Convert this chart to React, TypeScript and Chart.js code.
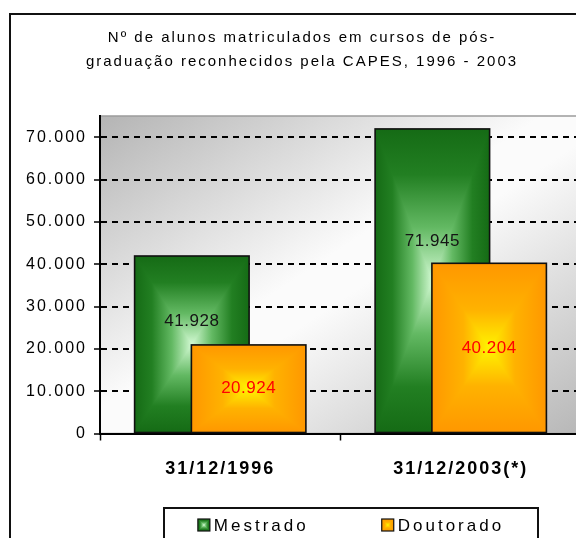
import React, { useEffect, useRef } from 'react';
import { Chart, registerables } from 'chart.js';

Chart.register(...registerables);

// ---- data ----
const categories = ['31/12/1996', '31/12/2003(*)'];
const seriesNames = ['Mestrado', 'Doutorado'];
const mestrado = [41928, 71945];
const doutorado = [20924, 40204];
const yTickValues = [0, 10000, 20000, 30000, 40000, 50000, 60000, 70000];
const yMax = 75000;
const titleLines = [
  'Nº de alunos matriculados em cursos de pós-',
  'graduação reconhecidos pela CAPES, 1996 - 2003',
];

// ---- styles ----
const FONT = '"Liberation Sans", Arial, sans-serif';
const W = 600;
const H = 560;
type Stop = [number, string];
const GREEN_STOPS: Stop[] = [
  [0, '#156b15'],
  [0.3, '#227f22'],
  [0.65, '#63b963'],
  [1, '#d2f9d2'],
];
const ORANGE_STOPS: Stop[] = [
  [0, '#ff9700'],
  [0.55, '#ffb200'],
  [1, '#fff400'],
];
const STOPS = [GREEN_STOPS, ORANGE_STOPS];
const LABEL_COLORS = ['#151515', '#ff0000'];
const LABEL_FRAC = [0.63, 0.5];

function fmt(v: number): string {
  return String(Math.round(v)).replace(/\B(?=(\d{3})+(?!\d))/g, '.');
}

function grad(ctx: CanvasRenderingContext2D, gx0: number, gy0: number, gx1: number, gy1: number, stops: Stop[]) {
  const g = ctx.createLinearGradient(gx0, gy0, gx1, gy1);
  stops.forEach(([o, c]) => g.addColorStop(o, c));
  return g;
}

// rectangular "from centre" gradient
function fillRectGradient(
  ctx: CanvasRenderingContext2D,
  x0: number,
  y0: number,
  x1: number,
  y1: number,
  stops: Stop[]
) {
  const cx = (x0 + x1) / 2;
  const cy = (y0 + y1) / 2;
  ctx.fillStyle = grad(ctx, x0, cy, cx, cy, stops);
  ctx.fillRect(x0, y0, cx - x0 + 0.6, y1 - y0);
  ctx.fillStyle = grad(ctx, x1, cy, cx, cy, stops);
  ctx.fillRect(cx, y0, x1 - cx, y1 - y0);
  const tri = (pts: number[][]) => {
    ctx.beginPath();
    ctx.moveTo(pts[0][0], pts[0][1]);
    ctx.lineTo(pts[1][0], pts[1][1]);
    ctx.lineTo(pts[2][0], pts[2][1]);
    ctx.closePath();
    ctx.fill();
  };
  ctx.fillStyle = grad(ctx, cx, y0, cx, cy, stops);
  tri([[x0, y0], [x1, y0], [cx, cy]]);
  ctx.fillStyle = grad(ctx, cx, y1, cx, cy, stops);
  tri([[x0, y1], [x1, y1], [cx, cy]]);
}

const decorPlugin = {
  id: 'decor',
  beforeDraw(chart: any) {
    const ctx: CanvasRenderingContext2D = chart.ctx;
    const { left, top, right, bottom } = chart.chartArea;
    ctx.save();
    ctx.fillStyle = '#ffffff';
    ctx.fillRect(0, 0, chart.width, chart.height);
    // outer border (cut by the window at right / bottom)
    ctx.strokeStyle = '#111111';
    ctx.lineWidth = 2;
    ctx.strokeRect(2, 6, chart.width + 40, chart.height + 40);
    // plot background: diagonal grey-white-grey
    const w = right - left;
    const h = bottom - top;
    const cx = (left + right) / 2;
    const cy = (top + bottom) / 2;
    const k = (w * h) / (w * w + h * h);
    const g = ctx.createLinearGradient(cx - k * h, cy - k * w, cx + k * h, cy + k * w);
    g.addColorStop(0, '#b4b4b4');
    g.addColorStop(0.46, '#fbfbfb');
    g.addColorStop(0.54, '#fbfbfb');
    g.addColorStop(1, '#b7b7b7');
    ctx.fillStyle = g;
    ctx.fillRect(left, top, w, h);
    ctx.strokeStyle = '#9c9c9c';
    ctx.lineWidth = 1.5;
    ctx.strokeRect(left, top, w, h);
    // title
    (ctx as any).letterSpacing = '2px';
    ctx.font = `15px ${FONT}`;
    ctx.fillStyle = '#000000';
    ctx.textAlign = 'center';
    ctx.textBaseline = 'middle';
    titleLines.forEach((t, i) => ctx.fillText(t, 294, 30 + i * 24));
    ctx.restore();
    (ctx as any).letterSpacing = '2px';
  },
  afterDatasetsDraw(chart: any) {
    const ctx: CanvasRenderingContext2D = chart.ctx;
    ctx.save();
    chart.data.datasets.forEach((_ds: any, di: number) => {
      const meta = chart.getDatasetMeta(di);
      meta.data.forEach((el: any) => {
        const { x, y, base, width } = el.getProps(['x', 'y', 'base', 'width'], true);
        const x0 = x - width / 2;
        const x1 = x + width / 2;
        fillRectGradient(ctx, x0, y, x1, base, STOPS[di]);
        ctx.strokeStyle = '#101010';
        ctx.lineWidth = 1.6;
        ctx.strokeRect(x0, y, width, base - y);
      });
    });
    (ctx as any).letterSpacing = '0.5px';
    ctx.font = `17px ${FONT}`;
    ctx.textAlign = 'center';
    ctx.textBaseline = 'middle';
    chart.data.datasets.forEach((ds: any, di: number) => {
      const meta = chart.getDatasetMeta(di);
      meta.data.forEach((el: any, i: number) => {
        const { x, y, base } = el.getProps(['x', 'y', 'base'], true);
        ctx.fillStyle = LABEL_COLORS[di];
        ctx.fillText(fmt(ds.data[i]), x, base + (y - base) * LABEL_FRAC[di]);
      });
    });
    ctx.restore();
  },
  afterDraw(chart: any) {
    const ctx: CanvasRenderingContext2D = chart.ctx;
    ctx.save();
    const boxL = 155;
    const boxT = 499;
    const boxR = 531;
    ctx.strokeStyle = '#111111';
    ctx.lineWidth = 2;
    ctx.strokeRect(boxL + 1, boxT + 1, boxR - boxL - 2, 80);
    (ctx as any).letterSpacing = '3px';
    ctx.font = `17px ${FONT}`;
    ctx.textAlign = 'left';
    ctx.textBaseline = 'middle';
    const cy = 517;
    const sq = 12;
    const gapText = 4;
    const itemGap = 73;
    const names = chart.data.datasets.map((d: any) => d.label);
    const widths = names.map((n: string) => ctx.measureText(n).width);
    const total =
      widths.reduce((a: number, b: number) => a + b + sq + gapText, 0) + itemGap * (names.length - 1);
    let x = (boxL + boxR) / 2 - total / 2;
    names.forEach((n: string, i: number) => {
      fillRectGradient(ctx, x, cy - sq / 2, x + sq, cy + sq / 2, STOPS[i]);
      ctx.strokeStyle = '#111111';
      ctx.lineWidth = 1.2;
      ctx.strokeRect(x, cy - sq / 2, sq, sq);
      ctx.fillStyle = '#000000';
      ctx.fillText(n, x + sq + gapText, cy + 1);
      x += sq + gapText + widths[i] + itemGap;
    });
    ctx.restore();
  },
};

export default function App() {
  const ref = useRef<HTMLCanvasElement>(null);
  useEffect(() => {
    if (!ref.current) return;
    const chart = new Chart(ref.current, {
      type: 'bar',
      data: {
        labels: categories,
        datasets: [
          {
            label: seriesNames[0],
            data: mestrado,
            backgroundColor: 'rgba(0,0,0,0)',
            borderWidth: 0,
            categoryPercentage: 0.4723,
            barPercentage: 2.016,
          },
          {
            label: seriesNames[1],
            data: doutorado,
            backgroundColor: 'rgba(0,0,0,0)',
            borderWidth: 0,
            categoryPercentage: 0.4723,
            barPercentage: 2.016,
          },
        ],
      },
      options: {
        animation: false,
        responsive: false,
        layout: { padding: { top: 108, left: 0, right: 27, bottom: 74.5 } },
        plugins: {
          legend: { display: false },
          title: { display: false },
          tooltip: { enabled: false },
        },
        scales: {
          x: {
            offset: true,
            grid: {
              display: true,
              drawOnChartArea: false,
              drawTicks: true,
              tickLength: 7,
              tickColor: '#000000',
              tickWidth: 1.5,
              offset: true,
            },
            border: { display: true, color: '#000000', width: 2 },
            ticks: {
              font: { family: FONT, size: 18, weight: 'bold' },
              color: '#000000',
              padding: 18,
              maxRotation: 0,
              autoSkip: false,
            },
            afterFit(s: any) {
              s.height = 60;
            },
          },
          y: {
            min: 0,
            max: yMax,
            afterBuildTicks(s: any) {
              s.ticks = yTickValues.map((v) => ({ value: v }));
            },
            ticks: {
              callback: (v: any) => fmt(Number(v)),
              font: { family: FONT, size: 16 },
              color: '#000000',
              padding: 7,
            },
            grid: {
              color: '#000000',
              lineWidth: 2,
              drawTicks: true,
              tickLength: 6,
              tickColor: '#000000',
              tickWidth: 1.5,
            },
            border: { display: true, dash: [6, 5], color: '#000000', width: 2 },
            afterFit(s: any) {
              s.width = 92;
            },
          },
        },
      } as any,
      plugins: [decorPlugin],
    });
    return () => chart.destroy();
  }, []);
  return (
    <div style={{ width: 576, height: 530, overflow: 'hidden', position: 'relative' }}>
      <canvas ref={ref} width={W} height={H} style={{ display: 'block', width: W, height: H }} />
    </div>
  );
}
